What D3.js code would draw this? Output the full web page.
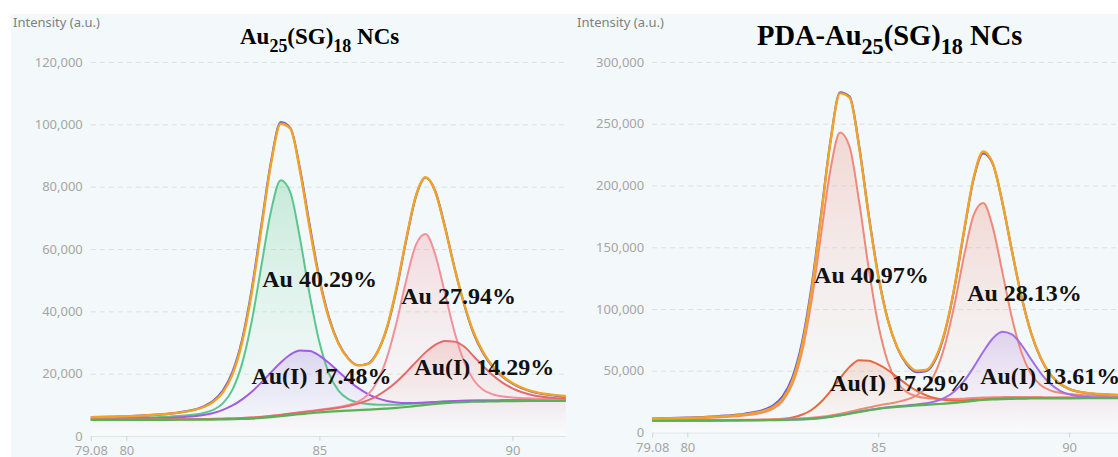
<!DOCTYPE html>
<html>
<head>
<meta charset="utf-8">
<title>Au 4f XPS</title>
<script src="https://cdn.jsdelivr.net/npm/d3@7/dist/d3.min.js"></script>
<style>
  html, body { margin: 0; padding: 0; background: #ffffff; }
  svg { display: block; }
</style>
</head>
<body>
<svg id="chart" width="1118" height="457"></svg>
<script>
// Binding energy grid (eV) shared by every trace
const bindingEnergy = [79.08, 80, 80.5, 81, 81.5, 82, 82.25, 82.5, 82.75, 83, 83.25, 83.5, 83.75, 84, 84.25, 84.5, 84.75, 85, 85.25, 85.5, 85.75, 86, 86.25, 86.5, 86.75, 87, 87.25, 87.5, 87.75, 88, 88.25, 88.5, 88.75, 89, 89.25, 89.5, 89.75, 90, 90.5, 91, 91.38];
const energyTicks = [79.08, 80, 85, 90];

// ---- Au25(SG)18 NCs ----
const au25Ticks = [0, 20000, 40000, 60000, 80000, 100000, 120000];
const au25Background = [5200, 5200, 5200, 5200, 5220, 5250, 5280, 5320, 5380, 5470, 5600, 5800, 6050, 6350, 6700, 7000, 7300, 7550, 7800, 8000, 8150, 8300, 8450, 8600, 8800, 9000, 9300, 9650, 10000, 10300, 10550, 10750, 10900, 11000, 11050, 11100, 11150, 11200, 11250, 11300, 11300];
const au25Au0_72 = [5600, 5750, 5900, 6150, 6550, 7400, 8350, 10450, 14900, 23300, 36900, 54700, 72300, 82050, 78100, 63250, 45300, 30150, 20050, 14500, 11850, 10750, 10250, 10050, 10000, 10000, 10150, 10400, 10650, 10900, 11050, 11200, 11300, 11350, 11400, 11400, 11450, 11450, 11450, 11500, 11480];
const au25AuI_72 = [5460, 5570, 5660, 5800, 6100, 6750, 7400, 8400, 9800, 11750, 14200, 17200, 20450, 23600, 26150, 27450, 27300, 25800, 23400, 20600, 17840, 15440, 13550, 12150, 11250, 10750, 10550, 10600, 10750, 10950, 11100, 11230, 11350, 11385, 11400, 11400, 11450, 11450, 11450, 11500, 11470];
const au25Au0_52 = [5290, 5310, 5330, 5350, 5390, 5460, 5500, 5570, 5640, 5760, 5930, 6170, 6470, 6820, 7250, 7630, 8030, 8420, 8840, 9310, 9920, 10990, 13160, 17470, 25150, 36500, 50000, 61350, 64800, 58250, 45950, 33400, 23800, 17870, 14760, 13330, 12700, 12390, 12060, 11890, 11780];
const au25AuI_52 = [5290, 5310, 5320, 5350, 5390, 5440, 5490, 5550, 5630, 5740, 5900, 6130, 6410, 6750, 7150, 7510, 7890, 8250, 8650, 9100, 9630, 10380, 11430, 12900, 14900, 17410, 20430, 23700, 26830, 29270, 30520, 30280, 28690, 25500, 22350, 19400, 17050, 15300, 13150, 12300, 12000];
const au25Fit = [6010, 6350, 6630, 7050, 7760, 9300, 10930, 13980, 19790, 30120, 46130, 66810, 87480, 100180, 98570, 84860, 66640, 49950, 37540, 29510, 24800, 22650, 23040, 26750, 34910, 47650, 63260, 77120, 83040, 78430, 66980, 53860, 42430, 33120, 26750, 22260, 19160, 17010, 14400, 13280, 12820];
const au25Raw = [6050, 6300, 6600, 7000, 7800, 9500, 11300, 14600, 20600, 31000, 47200, 67800, 88200, 100700, 98800, 85600, 67600, 50700, 38000, 29700, 24900, 22700, 23200, 26900, 34600, 47200, 62900, 76800, 82900, 78600, 67300, 54000, 42200, 32700, 26400, 22000, 19000, 16800, 14200, 13100, 12600];
const au25Labels = ["Au 40.29%", "Au(I) 17.48%", "Au 27.94%", "Au(I) 14.29%"];

// ---- PDA-Au25(SG)18 NCs ----
const pdaTicks = [0, 50000, 100000, 150000, 200000, 250000, 300000];
const pdaBackground = [9600, 9600, 9650, 9700, 9800, 9900, 10000, 10150, 10350, 10650, 11050, 11700, 12600, 13800, 15200, 16700, 18000, 19200, 20100, 20800, 21400, 21900, 22400, 22900, 23400, 24000, 24800, 25600, 26300, 26800, 27100, 27300, 27450, 27550, 27600, 27650, 27700, 27700, 27750, 27800, 27800];
const pdaAu0_72 = [10700, 11300, 11800, 12600, 13800, 16350, 19350, 25700, 39100, 64600, 105750, 159700, 213050, 242900, 231400, 186900, 133000, 87600, 57200, 40500, 32650, 29300, 27850, 27250, 27050, 27050, 27400, 27900, 28300, 28550, 28650, 28700, 28650, 28650, 28650, 28600, 28550, 28500, 28400, 28400, 28350];
const pdaAuI_72 = [9700, 9750, 9800, 9900, 10050, 10300, 10600, 11100, 12150, 14350, 18250, 24700, 33600, 43900, 53150, 58600, 58150, 55200, 50600, 44800, 38900, 33900, 30200, 27700, 26300, 25800, 26000, 26500, 27000, 27350, 27550, 27700, 27800, 27850, 27850, 27900, 27900, 27900, 27900, 27950, 27950];
const pdaAu0_52 = [9860, 9930, 10030, 10150, 10310, 10510, 10680, 10880, 11140, 11530, 12040, 12820, 13850, 15220, 16830, 18580, 20200, 21810, 23220, 24730, 26700, 29970, 36100, 48720, 70980, 104030, 143250, 176030, 185730, 166300, 130090, 93190, 65000, 47540, 38400, 34150, 32200, 31170, 30100, 29530, 29190];
const pdaAuI_52 = [9650, 9650, 9700, 9750, 9900, 10000, 10100, 10250, 10450, 10750, 11200, 11850, 12750, 14000, 15400, 16950, 18250, 19500, 20450, 21250, 21950, 22650, 23650, 25250, 28200, 33400, 41700, 52900, 65400, 76150, 81550, 79500, 71050, 59550, 48350, 39650, 34000, 30850, 28650, 28250, 28150];
const pdaFit = [11100, 11800, 12400, 13300, 14700, 17450, 20700, 27450, 41800, 69300, 114100, 173950, 235500, 274600, 271200, 230900, 175600, 126500, 91150, 68850, 56000, 50100, 50600, 60250, 82350, 118300, 164000, 206500, 227500, 218000, 186550, 147150, 110150, 80950, 60800, 47550, 39700, 35400, 31900, 30800, 30250];
const pdaRaw = [11300, 12000, 12600, 13600, 15200, 18400, 22000, 29500, 44500, 72500, 117500, 176000, 236000, 275500, 272000, 232000, 176500, 127500, 91500, 68500, 55000, 48800, 49600, 59000, 81500, 117500, 163000, 205500, 226000, 217500, 186500, 147500, 110500, 81000, 60500, 47200, 39500, 35200, 31800, 30700, 30200];
const pdaLabels = ["Au 40.97%", "Au(I) 17.29%", "Au 28.13%", "Au(I) 13.61%"];

// ---------------------------------------------------------------
const W = 1118, H = 457;
const svg = d3.select("#chart");
const defs = svg.append("defs");
const tickFont = "'Noto Sans', 'DejaVu Sans', sans-serif";
const serif = "'Liberation Serif', 'Times New Roman', serif";

// soft tinted backdrop behind both panels
svg.append("rect")
  .attr("x", 11).attr("y", 14)
  .attr("width", W - 11).attr("height", H - 14)
  .attr("fill", "#f3f9fa");

let gradCount = 0;
function gradient(color, topAlpha) {
  const id = "fill" + (gradCount++);
  const lg = defs.append("linearGradient").attr("id", id)
    .attr("x1", 0).attr("y1", 0).attr("x2", 0).attr("y2", 1);
  lg.append("stop").attr("offset", 0).attr("stop-color", color).attr("stop-opacity", topAlpha);
  lg.append("stop").attr("offset", 1).attr("stop-color", "#ffffff").attr("stop-opacity", 0.14);
  return `url(#${id})`;
}

function drawPanel(p) {
  const x = d3.scaleLinear()
    .domain([bindingEnergy[0], bindingEnergy[bindingEnergy.length - 1]])
    .range(p.xRange);
  const y = d3.scaleLinear().domain([0, d3.max(p.ticks)]).range(p.yRange);
  const g = svg.append("g");

  // horizontal grid + intensity tick labels
  const yAxis = g.append("g")
    .attr("transform", `translate(${p.xRange[0]},0)`)
    .call(d3.axisLeft(y).tickValues(p.ticks).tickFormat(d3.format(","))
      .tickSize(-(p.xRange[1] - p.xRange[0])).tickPadding(8));
  yAxis.select(".domain").remove();
  yAxis.selectAll(".tick line")
    .attr("stroke", "#d9e1e4").attr("stroke-dasharray", "5,4")
    .filter(d => d === 0).remove();
  yAxis.selectAll(".tick text")
    .attr("fill", "#a5a5a5").style("font-family", tickFont).style("font-size", "13px");

  // binding energy axis
  const xAxis = g.append("g")
    .attr("transform", `translate(0,${p.yRange[0]})`)
    .call(d3.axisBottom(x).tickValues(energyTicks).tickFormat(d => String(d))
      .tickSize(5).tickSizeOuter(0).tickPadding(5));
  xAxis.select(".domain").attr("stroke", "#dfe3e5");
  xAxis.selectAll(".tick line").attr("stroke", "#cfd5d8");
  xAxis.selectAll(".tick text")
    .attr("fill", "#a5a5a5").style("font-family", tickFont).style("font-size", "13px");

  // axis caption
  g.append("text")
    .attr("x", p.captionX).attr("y", 27)
    .attr("fill", "#808080")
    .style("font-family", tickFont).style("font-size", "13px")
    .text("Intensity (a.u.)");

  const px = (d, i) => x(bindingEnergy[i]);
  const area = d3.area().x(px).y0(y(0)).y1(d => y(d)).curve(d3.curveMonotoneX);
  const line = d3.line().x(px).y(d => y(d)).curve(d3.curveMonotoneX);

  const plot = g.append("g");
  // fitted components: shaded areas, then outlines
  p.components.forEach(c => {
    plot.append("path").datum(c.values)
      .attr("d", area)
      .attr("fill", gradient(c.color, c.alpha));
  });
  p.components.forEach(c => {
    plot.append("path").datum(c.values)
      .attr("d", line)
      .attr("fill", "none").attr("stroke", c.color).attr("stroke-width", 2);
  });
  // Shirley background
  plot.append("path").datum(p.background)
    .attr("d", line).attr("fill", "none")
    .attr("stroke", "#53b455").attr("stroke-width", 2.2);
  // measured spectrum and envelope fit
  plot.append("path").datum(p.raw)
    .attr("d", line).attr("fill", "none")
    .attr("stroke", "#6b5cd8").attr("stroke-width", 2.2);
  plot.append("path").datum(p.fit)
    .attr("d", line).attr("fill", "none")
    .attr("stroke", "#f2a324").attr("stroke-width", 2.4);

  // component shares
  g.append("g").selectAll("text").data(p.labels).join("text")
    .attr("x", (d, i) => x(p.labelPos[i][0]))
    .attr("y", (d, i) => y(p.labelPos[i][1]))
    .attr("fill", "#111")
    .style("font-family", serif).style("font-weight", "bold").style("font-size", "24px")
    .text(d => d);

  // title with sub-scripted counts
  const t = g.append("text")
    .attr("x", p.title.x).attr("y", p.title.y)
    .attr("fill", "#000")
    .style("font-family", serif).style("font-weight", "bold")
    .style("font-size", p.title.size + "px");
  const sub = p.title.size * 0.78, drop = p.title.size * 0.33;
  t.append("tspan").text(p.title.prefix + "Au");
  t.append("tspan").attr("dy", drop).style("font-size", sub + "px").text("25");
  t.append("tspan").attr("dy", -drop).text("(SG)");
  t.append("tspan").attr("dy", drop).style("font-size", sub + "px").text("18");
  t.append("tspan").attr("dy", -drop).text("\u00a0NCs");
}

drawPanel({
  xRange: [90.8, 565.7],
  yRange: [436, 62],
  ticks: au25Ticks,
  captionX: 13,
  background: au25Background,
  raw: au25Raw,
  fit: au25Fit,
  components: [
    { values: au25Au0_72, color: "#5cc58d", alpha: 0.30 },
    { values: au25AuI_72, color: "#a25be3", alpha: 0.22 },
    { values: au25Au0_52, color: "#f3909c", alpha: 0.30 },
    { values: au25AuI_52, color: "#e76a6a", alpha: 0.22 }
  ],
  labels: au25Labels,
  labelPos: [[83.52, 47800], [83.24, 16700], [87.12, 42350], [87.46, 19570]],
  title: { prefix: "", x: 240, y: 44, size: 23 }
});

drawPanel({
  xRange: [652.2, 1121.8],
  yRange: [432.5, 62],
  ticks: pdaTicks,
  captionX: 577,
  background: pdaBackground,
  raw: pdaRaw,
  fit: pdaFit,
  components: [
    { values: pdaAu0_72, color: "#ef8a7a", alpha: 0.30 },
    { values: pdaAuI_72, color: "#e8683f", alpha: 0.18 },
    { values: pdaAu0_52, color: "#ef8a7a", alpha: 0.30 },
    { values: pdaAuI_52, color: "#a06fe6", alpha: 0.24 }
  ],
  labels: pdaLabels,
  labelPos: [[83.32, 121200], [83.74, 33650], [87.33, 106600], [87.67, 39320]],
  title: { prefix: "PDA-", x: 757, y: 45, size: 28.5 }
});
</script>
</body>
</html>
